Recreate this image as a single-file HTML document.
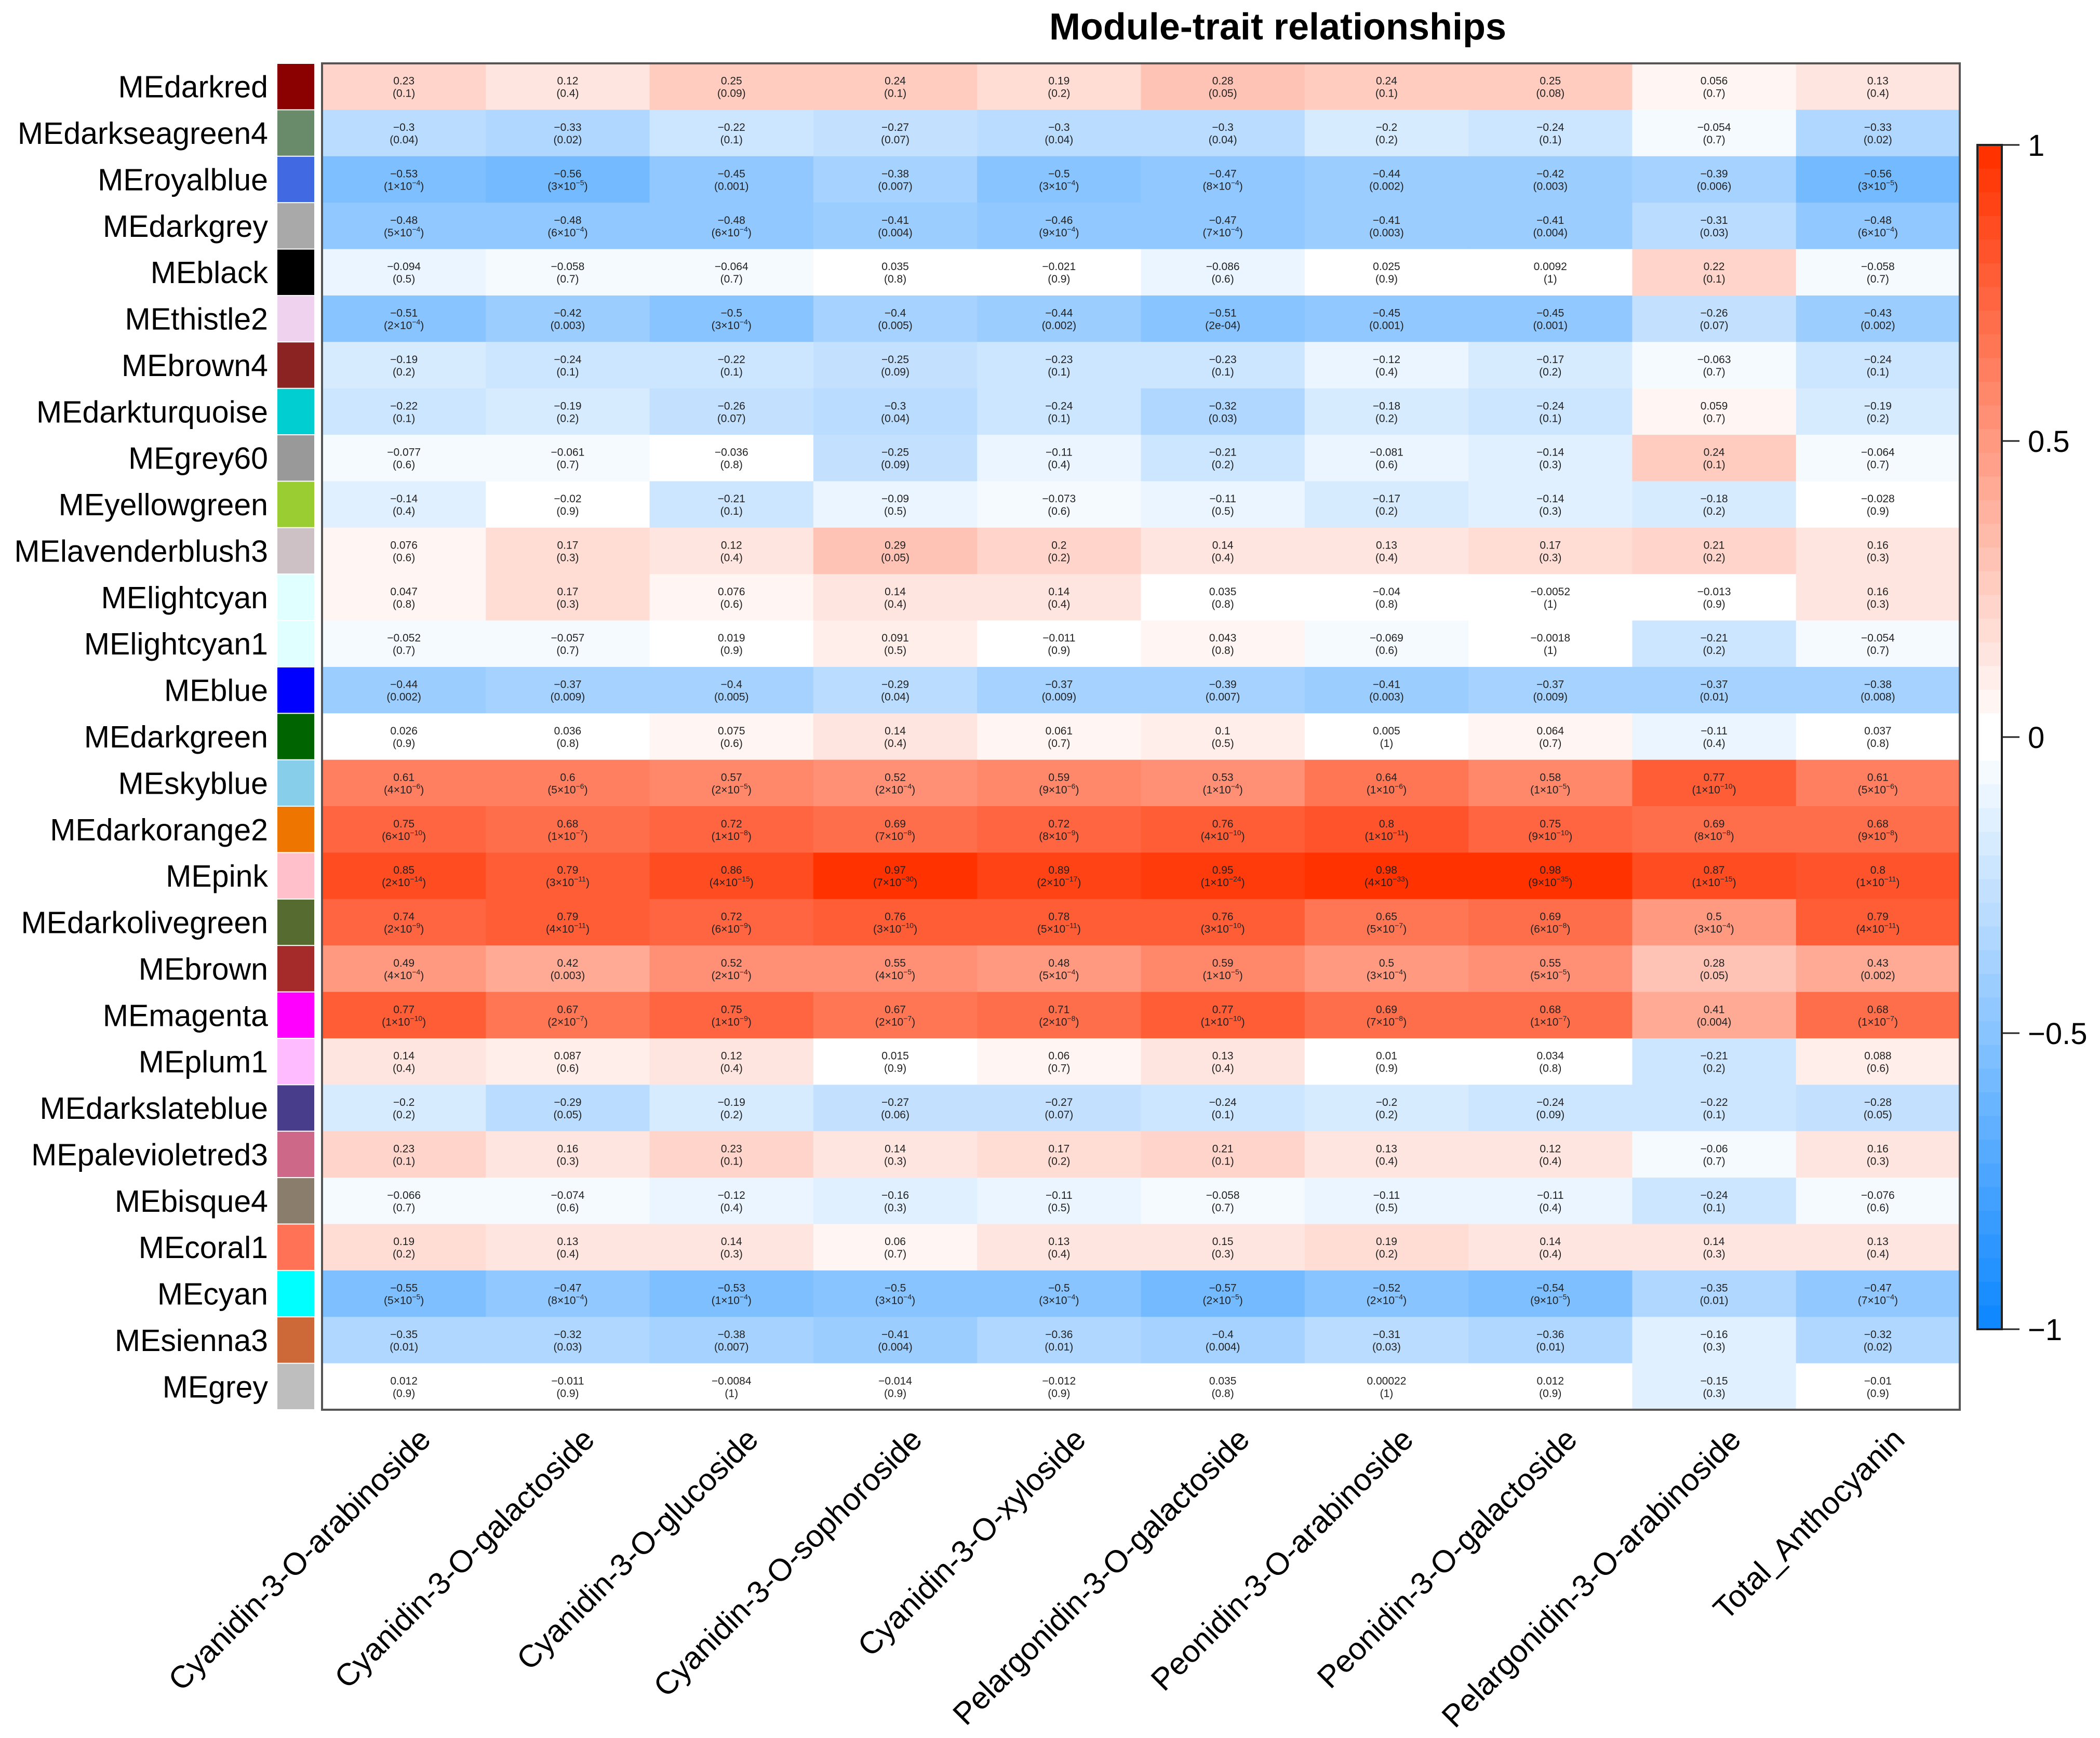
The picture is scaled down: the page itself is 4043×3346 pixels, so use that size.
<!DOCTYPE html>
<html><head><meta charset="utf-8"><style>
html,body{margin:0;padding:0;background:#fff;}
svg{display:block;font-family:"Liberation Sans",Arial,sans-serif;}
</style></head><body>
<svg id="chart" xmlns="http://www.w3.org/2000/svg" width="4043" height="3346" viewBox="0 0 4043 3346">
<rect x="0" y="0" width="4043" height="3346" fill="#fff"/>
<text x="2460" y="76" text-anchor="middle" font-size="72" font-weight="bold">Module-trait relationships</text>
<g id="cells"></g><g id="swatches"></g><g id="rowlabels"></g><g id="collabels"></g><g id="legend"></g>
<rect x="620" y="122" width="3153" height="2592" fill="none" stroke="#555" stroke-width="4"/>
</svg>
<script>
const modules = ["MEdarkred","MEdarkseagreen4","MEroyalblue","MEdarkgrey","MEblack","MEthistle2","MEbrown4","MEdarkturquoise","MEgrey60","MEyellowgreen","MElavenderblush3","MElightcyan","MElightcyan1","MEblue","MEdarkgreen","MEskyblue","MEdarkorange2","MEpink","MEdarkolivegreen","MEbrown","MEmagenta","MEplum1","MEdarkslateblue","MEpalevioletred3","MEbisque4","MEcoral1","MEcyan","MEsienna3","MEgrey"];
const moduleColors = ["#8B0000","#698B69","#4169E1","#A9A9A9","#000000","#EED2EE","#8B2323","#00CED1","#999999","#9ACD32","#CDC1C5","#E0FFFF","#E0FFFF","#0000FF","#006400","#87CEEB","#EE7600","#FFC0CB","#556B2F","#A52A2A","#FF00FF","#FFBBFF","#483D8B","#CD6889","#8B7D6B","#FF7256","#00FFFF","#CD6839","#BEBEBE"];
const traits = ["Cyanidin-3-O-arabinoside","Cyanidin-3-O-galactoside","Cyanidin-3-O-glucoside","Cyanidin-3-O-sophoroside","Cyanidin-3-O-xyloside","Pelargonidin-3-O-galactoside","Peonidin-3-O-arabinoside","Peonidin-3-O-galactoside","Pelargonidin-3-O-arabinoside","Total_Anthocyanin"];
const corr = [
[0.23,0.12,0.25,0.24,0.19,0.28,0.24,0.25,0.056,0.13],
[-0.3,-0.33,-0.22,-0.27,-0.3,-0.3,-0.2,-0.24,-0.054,-0.33],
[-0.53,-0.56,-0.45,-0.38,-0.5,-0.47,-0.44,-0.42,-0.39,-0.56],
[-0.48,-0.48,-0.48,-0.41,-0.46,-0.47,-0.41,-0.41,-0.31,-0.48],
[-0.094,-0.058,-0.064,0.035,-0.021,-0.086,0.025,0.0092,0.22,-0.058],
[-0.51,-0.42,-0.5,-0.4,-0.44,-0.51,-0.45,-0.45,-0.26,-0.43],
[-0.19,-0.24,-0.22,-0.25,-0.23,-0.23,-0.12,-0.17,-0.063,-0.24],
[-0.22,-0.19,-0.26,-0.3,-0.24,-0.32,-0.18,-0.24,0.059,-0.19],
[-0.077,-0.061,-0.036,-0.25,-0.11,-0.21,-0.081,-0.14,0.24,-0.064],
[-0.14,-0.02,-0.21,-0.09,-0.073,-0.11,-0.17,-0.14,-0.18,-0.028],
[0.076,0.17,0.12,0.29,0.2,0.14,0.13,0.17,0.21,0.16],
[0.047,0.17,0.076,0.14,0.14,0.035,-0.04,-0.0052,-0.013,0.16],
[-0.052,-0.057,0.019,0.091,-0.011,0.043,-0.069,-0.0018,-0.21,-0.054],
[-0.44,-0.37,-0.4,-0.29,-0.37,-0.39,-0.41,-0.37,-0.37,-0.38],
[0.026,0.036,0.075,0.14,0.061,0.1,0.005,0.064,-0.11,0.037],
[0.61,0.6,0.57,0.52,0.59,0.53,0.64,0.58,0.77,0.61],
[0.75,0.68,0.72,0.69,0.72,0.76,0.8,0.75,0.69,0.68],
[0.85,0.79,0.86,0.97,0.89,0.95,0.98,0.98,0.87,0.8],
[0.74,0.79,0.72,0.76,0.78,0.76,0.65,0.69,0.5,0.79],
[0.49,0.42,0.52,0.55,0.48,0.59,0.5,0.55,0.28,0.43],
[0.77,0.67,0.75,0.67,0.71,0.77,0.69,0.68,0.41,0.68],
[0.14,0.087,0.12,0.015,0.06,0.13,0.01,0.034,-0.21,0.088],
[-0.2,-0.29,-0.19,-0.27,-0.27,-0.24,-0.2,-0.24,-0.22,-0.28],
[0.23,0.16,0.23,0.14,0.17,0.21,0.13,0.12,-0.06,0.16],
[-0.066,-0.074,-0.12,-0.16,-0.11,-0.058,-0.11,-0.11,-0.24,-0.076],
[0.19,0.13,0.14,0.06,0.13,0.15,0.19,0.14,0.14,0.13],
[-0.55,-0.47,-0.53,-0.5,-0.5,-0.57,-0.52,-0.54,-0.35,-0.47],
[-0.35,-0.32,-0.38,-0.41,-0.36,-0.4,-0.31,-0.36,-0.16,-0.32],
[0.012,-0.011,-0.0084,-0.014,-0.012,0.035,0.00022,0.012,-0.15,-0.01]
];
const pvals = [
["0.1","0.4","0.09","0.1","0.2","0.05","0.1","0.08","0.7","0.4"],
["0.04","0.02","0.1","0.07","0.04","0.04","0.2","0.1","0.7","0.02"],
["1^-4","3^-5","0.001","0.007","3^-4","8^-4","0.002","0.003","0.006","3^-5"],
["5^-4","6^-4","6^-4","0.004","9^-4","7^-4","0.003","0.004","0.03","6^-4"],
["0.5","0.7","0.7","0.8","0.9","0.6","0.9","1","0.1","0.7"],
["2^-4","0.003","3^-4","0.005","0.002","2e-04","0.001","0.001","0.07","0.002"],
["0.2","0.1","0.1","0.09","0.1","0.1","0.4","0.2","0.7","0.1"],
["0.1","0.2","0.07","0.04","0.1","0.03","0.2","0.1","0.7","0.2"],
["0.6","0.7","0.8","0.09","0.4","0.2","0.6","0.3","0.1","0.7"],
["0.4","0.9","0.1","0.5","0.6","0.5","0.2","0.3","0.2","0.9"],
["0.6","0.3","0.4","0.05","0.2","0.4","0.4","0.3","0.2","0.3"],
["0.8","0.3","0.6","0.4","0.4","0.8","0.8","1","0.9","0.3"],
["0.7","0.7","0.9","0.5","0.9","0.8","0.6","1","0.2","0.7"],
["0.002","0.009","0.005","0.04","0.009","0.007","0.003","0.009","0.01","0.008"],
["0.9","0.8","0.6","0.4","0.7","0.5","1","0.7","0.4","0.8"],
["4^-6","5^-6","2^-5","2^-4","9^-6","1^-4","1^-6","1^-5","1^-10","5^-6"],
["6^-10","1^-7","1^-8","7^-8","8^-9","4^-10","1^-11","9^-10","8^-8","9^-8"],
["2^-14","3^-11","4^-15","7^-30","2^-17","1^-24","4^-33","9^-35","1^-15","1^-11"],
["2^-9","4^-11","6^-9","3^-10","5^-11","3^-10","5^-7","6^-8","3^-4","4^-11"],
["4^-4","0.003","2^-4","4^-5","5^-4","1^-5","3^-4","5^-5","0.05","0.002"],
["1^-10","2^-7","1^-9","2^-7","2^-8","1^-10","7^-8","1^-7","0.004","1^-7"],
["0.4","0.6","0.4","0.9","0.7","0.4","0.9","0.8","0.2","0.6"],
["0.2","0.05","0.2","0.06","0.07","0.1","0.2","0.09","0.1","0.05"],
["0.1","0.3","0.1","0.3","0.2","0.1","0.4","0.4","0.7","0.3"],
["0.7","0.6","0.4","0.3","0.5","0.7","0.5","0.4","0.1","0.6"],
["0.2","0.4","0.3","0.7","0.4","0.3","0.2","0.4","0.3","0.4"],
["5^-5","8^-4","1^-4","3^-4","3^-4","2^-5","2^-4","9^-5","0.01","7^-4"],
["0.01","0.03","0.007","0.004","0.01","0.004","0.03","0.01","0.3","0.02"],
["0.9","0.9","1","0.9","0.9","0.8","1","0.9","0.3","0.9"]
];
const legendTicks = [1,0.5,0,-0.5,-1];
const legendTickLabels = ["1","0.5","0","\u22120.5","\u22121"];

const NS="http://www.w3.org/2000/svg";
const PL=620,PT=122,PW=3153,PH=2592;
const nR=corr.length,nC=traits.length;
const rowH=PH/nR,colW=PW/nC;
const xC=j=>PL+(j+0.5)*colW;
const yR=i=>PT+i*rowH;
function col(v){
  let c=Math.max(-1,Math.min(0.9999,v));
  const bin=Math.floor((c+1)/0.04);
  const center=-1+bin*0.04+0.02;
  const a=Math.max(0,(Math.abs(center)-0.02)/0.96);
  if(center>=0){return `rgb(255,${Math.round(255-a*205)},${Math.round(255-a*255)})`;}
  return `rgb(${Math.round(255-a*239)},${Math.round(255-a*119)},255)`;
}
function mk(tag,attrs,parent){const e=document.createElementNS(NS,tag);for(const k in attrs)e.setAttribute(k,attrs[k]);parent.appendChild(e);return e;}
const gC=document.getElementById('cells');
function fmtV(v){return v<0?"\u2212"+String(-v):String(v);}
corr.forEach((row,i)=>{
  row.forEach((v,j)=>{
    const r=mk('rect',{x:PL+j*colW,y:yR(i),width:colW+0.6,height:rowH+0.6,fill:col(v)},gC);
    
    
    const cy=yR(i)+rowH/2;
    const t=mk('text',{x:xC(j),y:cy-4,'text-anchor':'middle','font-size':21,fill:'#222'},gC);
    t.textContent=fmtV(v);
    
    
    const p=pvals[i][j];
    const tp=mk('text',{x:xC(j),y:cy+20,'text-anchor':'middle','font-size':21,fill:'#222'},gC);
    
    
    if(p.indexOf('^')>=0){
      const [m,e]=p.split('^');
      mk('tspan',{},tp).textContent="("+m+"\u00d710";
      const s=mk('tspan',{'font-size':14,dy:-9},tp);s.textContent=e.replace('-','\u2212');
      mk('tspan',{dy:9},tp).textContent=")";
    } else tp.textContent="("+p+")";
  });
});
const gS=document.getElementById('swatches'),gL=document.getElementById('rowlabels');
for(let i=0;i<nR;i++){
  const s=mk('rect',{x:534,y:yR(i)+1,width:71,height:rowH-2,fill:moduleColors[i]},gS);
  
  
  const t=mk('text',{x:516,y:yR(i)+rowH/2+21,'text-anchor':'end','font-size':59,fill:'#000'},gL);
  t.textContent=modules[i];
  
  
}
const gX=document.getElementById('collabels');
traits.forEach((n,j)=>{
  const X=xC(j)+55,Y=2775;
  const t=mk('text',{x:X,y:Y,'text-anchor':'end','font-size':60,transform:`rotate(-45 ${X} ${Y})`},gX);
  t.textContent=n;
  
  
});
const gG=document.getElementById('legend');
const LX=3807,LW=47,LT=279,LB=2559;
const ly=v=>LT+(1-v)/2*(LB-LT);
for(let k=0;k<50;k++){
  const v1=1-k*0.04,v2=v1-0.04,mid=(v1+v2)/2;
  const r=mk('rect',{x:LX,y:ly(v1),width:LW,height:ly(v2)-ly(v1)+0.6,fill:col(mid)},gG);
  
  
}
const fr=mk('rect',{x:LX,y:LT,width:LW,height:LB-LT,fill:'none',stroke:'#222','stroke-width':4},gG);


legendTicks.forEach((v,k)=>{
  const l=mk('line',{x1:LX+LW,x2:3888,y1:ly(v),y2:ly(v),stroke:'#222','stroke-width':3},gG);
  
  
  const t=mk('text',{x:3904,y:ly(v)+21,'font-size':58,fill:'#000'},gG);
  t.textContent=legendTickLabels[k];
  
  
});
</script>
</body></html>
